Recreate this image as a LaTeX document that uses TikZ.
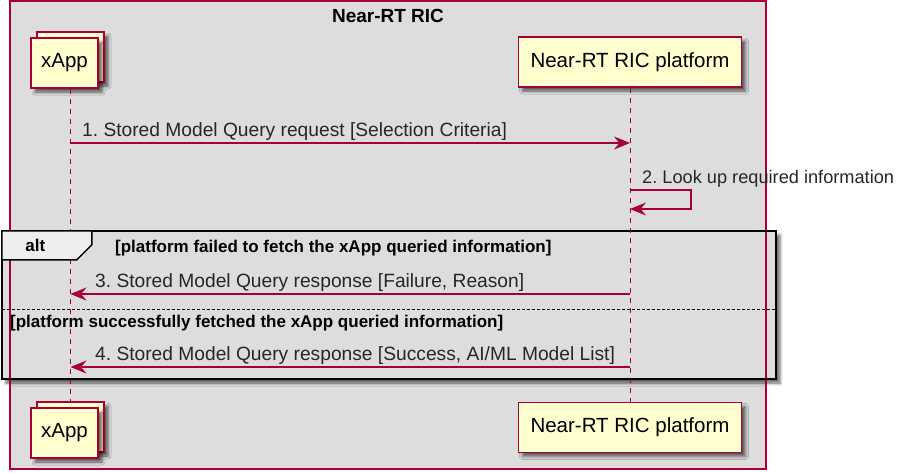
\documentclass[tikz,border=0pt]{standalone}
\usepackage{fontspec}
\setmainfont{Liberation Sans}
\usetikzlibrary{positioning, arrows.meta, shadows.blur, calc}

\definecolor{umlred}{HTML}{A80036}
\definecolor{umlbox}{HTML}{FEFECE}
\definecolor{umlbg}{HTML}{DDDDDD}
\definecolor{umltab}{HTML}{EEEEEE}

\frenchspacing

\begin{document}
\begin{tikzpicture}[
  x=1pt, y=-1pt,
  part/.style={draw=umlred, fill=umlbox, line width=1.6pt, minimum width=67pt,
    minimum height=50pt, inner sep=0pt, font=\fontsize{20.5}{24}\selectfont,
    blur shadow={shadow xshift=4pt, shadow yshift=-4pt, shadow blur radius=3pt, shadow opacity=60}},
  life/.style={umlred, line width=1pt, dash pattern=on 5pt off 5pt},
  msg/.style={umlred, line width=1.1pt, -{Stealth[length=16pt, width=13pt, inset=5.5pt]}},
  msgtxt/.style={anchor=base west, inner sep=0pt, text=black!85,
    font=\fontsize{19.2}{22}\selectfont},
  guard/.style={anchor=base west, inner sep=0pt, font=\bfseries\fontsize{17}{20}\selectfont},
]
  \useasboundingbox (0,0) rectangle (904,472);

  % Near-RT RIC box
  \node[fill=umlbg, minimum width=756pt, minimum height=468pt, inner sep=0pt] (ric) at (388,235) {};
  \node[font=\bfseries\fontsize{19}{22}\selectfont] (ttl) at (388,16) {Near-RT RIC};

  % alt frame (fill + shadow first)
  \node[fill=umlbg, minimum width=774pt, minimum height=148pt, inner sep=0pt,
    blur shadow={shadow xshift=4pt, shadow yshift=-4pt, shadow blur radius=3pt, shadow opacity=60}] (alt) at (389,305) {};
  \draw[umlred, line width=1.5pt] (ric.north west) rectangle (ric.south east);

  % Participants
  \node[part] (xtopb) at (70.5,57) {};
  \node[part] (xtop) at (64.5,63) {xApp};
  \node[part, minimum width=223pt] (ptop) at (630,62) {Near-RT RIC platform};
  \node[part] (xbotb) at (70.5,427) {};
  \node[part] (xbot) at (64.5,433) {xApp};
  \node[part, minimum width=223pt] (pbot) at (630,427.5) {Near-RT RIC platform};

  % Lifelines
  \draw[life] (xtop.south -| xtopb) -- (xbotb.north);
  \draw[life] (ptop.south) -- (pbot.north);

  % Messages
  \coordinate (m1a) at (xtopb.center |- 0,143);
  \coordinate (m1b) at (ptop.center |- 0,143);
  \coordinate (m2a) at (ptop.center |- 0,190);
  \coordinate (m2b) at (ptop.center |- 0,209);
  \coordinate (m3a) at (ptop.center |- 0,294);
  \coordinate (m3b) at (xtopb.center |- 0,294);
  \coordinate (m4a) at (ptop.center |- 0,367);
  \coordinate (m4b) at (xtopb.center |- 0,367);

  \draw[msg] (m1a) -- (m1b);
  \node[msgtxt] (t1) at (82,136) {1. Stored Model Query request [Selection Criteria]};
  \draw[msg] (m2a) -- ++(61,0) |- (m2b);
  \node[msgtxt, font=\fontsize{18.2}{22}\selectfont] (t2) at (642,183) {2. Look up required information};
  \draw[msg] (m3a) -- (m3b);
  \node[msgtxt] (t3) at (95,287) {3. Stored Model Query response [Failure, Reason]};
  \draw[msg] (m4a) -- (m4b);
  \node[msgtxt] (t4) at (95,360) {4. Stored Model Query response [Success, AI/ML Model List]};

  % alt frame border, tab and guards
  \draw[line width=2.2pt] (alt.north west) rectangle (alt.south east);
  \draw[fill=umltab, line width=1.5pt] (alt.north west) -- ++(90,0) -- ++(0,14) -- ++(-15,15)
    -- ($(alt.north west)+(0,29)$) -- cycle;
  \node[font=\bfseries\fontsize{17}{20}\selectfont] (altlbl) at ($(alt.north west)+(33.5,15)$) {alt};
  \node[guard] (g1) at (115,252) {[platform failed to fetch the xApp queried information]};
  \draw[line width=1pt, dash pattern=on 3pt off 2pt] (alt.west |- 0,309) -- (alt.east |- 0,309);
  \node[guard] (g2) at (10,327) {[platform successfully fetched the xApp queried information]};
\end{tikzpicture}
\end{document}
